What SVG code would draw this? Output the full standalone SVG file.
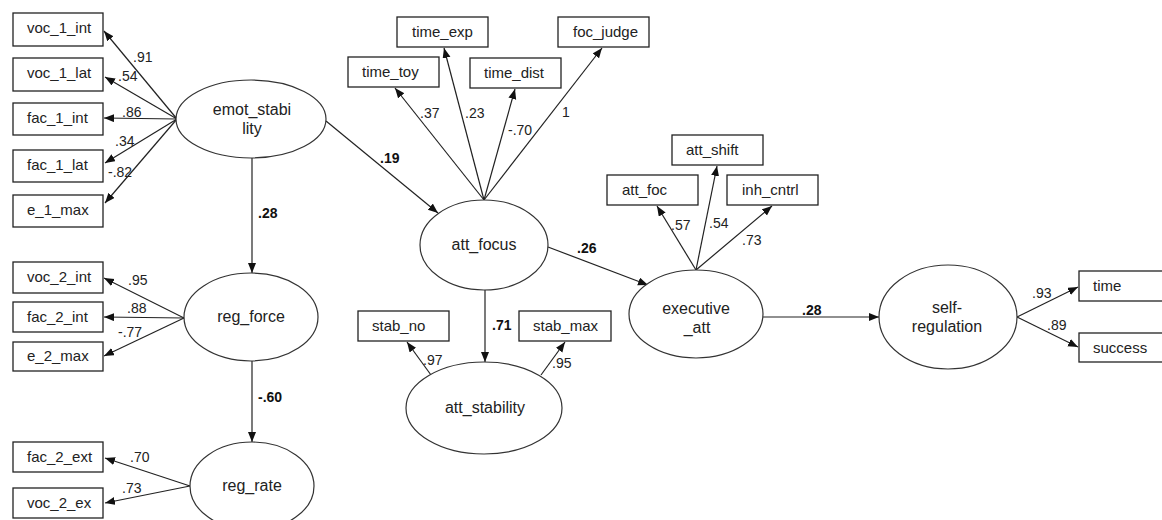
<svg xmlns="http://www.w3.org/2000/svg" width="1162" height="520" viewBox="0 0 1162 520">
<defs>
<marker id="ah" markerUnits="userSpaceOnUse" markerWidth="11" markerHeight="9" refX="10" refY="4" orient="auto">
<path d="M0,0 L10,4 L0,8 z" fill="#111"/>
</marker>
<style>
.box{fill:#fff;stroke:#222;stroke-width:1.3}
.ell{fill:#fff;stroke:#333;stroke-width:1.2}
.bt{font-family:"Liberation Sans",Arial,sans-serif;font-size:15px;fill:#222}
.et{font-family:"Liberation Sans",Arial,sans-serif;font-size:16px;fill:#222;text-anchor:middle}
.lb{font-family:"Liberation Sans",Arial,sans-serif;font-size:14px;fill:#222}
.lbb{font-family:"Liberation Sans",Arial,sans-serif;font-size:14px;font-weight:bold;fill:#111}
.c{stroke:#222;stroke-width:1.2;fill:none;marker-end:url(#ah)}
</style>
</defs>
<rect width="1162" height="520" fill="#fff"/>

<g id="connectors">
<line class="c" x1="177" y1="119" x2="104" y2="31"/>
<line class="c" x1="177" y1="119" x2="105" y2="77"/>
<line class="c" x1="177" y1="119" x2="104" y2="118"/>
<line class="c" x1="177" y1="119" x2="105" y2="163"/>
<line class="c" x1="177" y1="119" x2="105" y2="203"/>
<line class="c" x1="184" y1="318" x2="104" y2="278"/>
<line class="c" x1="184" y1="318" x2="104" y2="317"/>
<line class="c" x1="184" y1="318" x2="104" y2="356"/>
<line class="c" x1="190" y1="486" x2="105" y2="458"/>
<line class="c" x1="190" y1="486" x2="105" y2="503"/>
<line class="c" x1="252" y1="158" x2="252" y2="273"/>
<line class="c" x1="252" y1="361" x2="252" y2="442"/>
<line class="c" x1="326" y1="121" x2="438" y2="213"/>
<line class="c" x1="484" y1="200" x2="395" y2="88"/>
<line class="c" x1="484" y1="200" x2="444" y2="48"/>
<line class="c" x1="484" y1="200" x2="515" y2="89"/>
<line class="c" x1="484" y1="200" x2="602" y2="48"/>
<line class="c" x1="485" y1="290" x2="485" y2="362"/>
<line class="c" x1="431" y1="375" x2="407" y2="342"/>
<line class="c" x1="541" y1="375" x2="565" y2="342"/>
<line class="c" x1="548" y1="247" x2="648" y2="285"/>
<line class="c" x1="696" y1="270" x2="657" y2="206"/>
<line class="c" x1="696" y1="270" x2="717" y2="166"/>
<line class="c" x1="696" y1="270" x2="772" y2="206"/>
<line class="c" x1="763" y1="317" x2="879" y2="317"/>
<line class="c" x1="1017" y1="317" x2="1078" y2="287"/>
<line class="c" x1="1017" y1="317" x2="1078" y2="347"/>
</g>

<g id="labels">
<text class="lb" x="133" y="62">.91</text>
<text class="lb" x="118" y="81">.54</text>
<text class="lb" x="122" y="117">.86</text>
<text class="lb" x="115" y="146">.34</text>
<text class="lb" x="108" y="177">-.82</text>
<text class="lb" x="128" y="285">.95</text>
<text class="lb" x="127" y="313">.88</text>
<text class="lb" x="118" y="337">-.77</text>
<text class="lb" x="130" y="462">.70</text>
<text class="lb" x="122" y="493">.73</text>
<text class="lbb" x="258" y="218">.28</text>
<text class="lbb" x="258" y="402">-.60</text>
<text class="lb" x="420" y="118">.37</text>
<text class="lb" x="465" y="118">.23</text>
<text class="lb" x="508" y="135">-.70</text>
<text class="lb" x="562" y="117">1</text>
<text class="lbb" x="380" y="163">.19</text>
<text class="lbb" x="492" y="330">.71</text>
<text class="lb" x="423" y="365">.97</text>
<text class="lb" x="552" y="368">.95</text>
<text class="lbb" x="577" y="253">.26</text>
<text class="lb" x="671" y="230">.57</text>
<text class="lb" x="709" y="228">.54</text>
<text class="lb" x="742" y="245">.73</text>
<text class="lbb" x="802" y="315">.28</text>
<text class="lb" x="1032" y="298">.93</text>
<text class="lb" x="1047" y="330">.89</text>
</g>

<g id="voc_1_int"><rect class="box" x="13" y="13" width="90" height="33"/><text class="bt" x="27" y="33">voc_1_int</text></g>
<g id="voc_1_lat"><rect class="box" x="13" y="58" width="90" height="33"/><text class="bt" x="27" y="78">voc_1_lat</text></g>
<g id="fac_1_int"><rect class="box" x="13" y="103" width="90" height="32"/><text class="bt" x="27" y="123">fac_1_int</text></g>
<g id="fac_1_lat"><rect class="box" x="13" y="150" width="90" height="32"/><text class="bt" x="27" y="170">fac_1_lat</text></g>
<g id="e_1_max"><rect class="box" x="13" y="195" width="90" height="32"/><text class="bt" x="27" y="215">e_1_max</text></g>

<g id="voc_2_int"><rect class="box" x="13" y="262" width="90" height="31"/><text class="bt" x="27" y="282">voc_2_int</text></g>
<g id="fac_2_int"><rect class="box" x="13" y="302" width="90" height="30"/><text class="bt" x="27" y="322">fac_2_int</text></g>
<g id="e_2_max"><rect class="box" x="13" y="342" width="90" height="29"/><text class="bt" x="27" y="361">e_2_max</text></g>
<g id="fac_2_ext"><rect class="box" x="13" y="442" width="90" height="30"/><text class="bt" x="27" y="462">fac_2_ext</text></g>
<g id="voc_2_ex"><rect class="box" x="13" y="488" width="90" height="30"/><text class="bt" x="27" y="508">voc_2_ex</text></g>

<g id="time_toy"><rect class="box" x="348" y="57" width="91" height="30"/><text class="bt" x="362" y="77">time_toy</text></g>
<g id="time_exp"><rect class="box" x="397" y="17" width="91" height="30"/><text class="bt" x="412" y="37">time_exp</text></g>
<g id="time_dist"><rect class="box" x="470" y="58" width="91" height="30"/><text class="bt" x="484" y="78">time_dist</text></g>
<g id="foc_judge"><rect class="box" x="558" y="17" width="91" height="30"/><text class="bt" x="573" y="37">foc_judge</text></g>

<g id="stab_no"><rect class="box" x="358" y="311" width="91" height="30"/><text class="bt" x="372" y="331">stab_no</text></g>
<g id="stab_max"><rect class="box" x="519" y="311" width="92" height="30"/><text class="bt" x="533" y="331">stab_max</text></g>

<g id="att_foc"><rect class="box" x="607" y="175" width="91" height="30"/><text class="bt" x="622" y="195">att_foc</text></g>
<g id="att_shift"><rect class="box" x="672" y="135" width="91" height="30"/><text class="bt" x="686" y="155">att_shift</text></g>
<g id="inh_cntrl"><rect class="box" x="727" y="175" width="91" height="30"/><text class="bt" x="742" y="195">inh_cntrl</text></g>

<g id="time"><rect class="box" x="1079" y="271" width="95" height="30"/><text class="bt" x="1093" y="291">time</text></g>
<g id="success"><rect class="box" x="1079" y="333" width="95" height="29"/><text class="bt" x="1093" y="353">success</text></g>

<g id="emot_stability"><ellipse class="ell" cx="251" cy="119" rx="75" ry="39"/><text class="et" x="252" y="115">emot_stabi</text><text class="et" x="252" y="134">lity</text></g>
<g id="reg_force"><ellipse class="ell" cx="251" cy="317" rx="67" ry="44"/><text class="et" x="251" y="322">reg_force</text></g>
<g id="reg_rate"><ellipse class="ell" cx="252" cy="486" rx="62" ry="44"/><text class="et" x="252" y="491">reg_rate</text></g>
<g id="att_focus"><ellipse class="ell" cx="484" cy="245" rx="64" ry="45"/><text class="et" x="484" y="250">att_focus</text></g>
<g id="att_stability"><ellipse class="ell" cx="484" cy="408" rx="78" ry="46"/><text class="et" x="485" y="413">att_stability</text></g>
<g id="executive_att"><ellipse class="ell" cx="696" cy="314" rx="67" ry="44"/><text class="et" x="696" y="314">executive</text><text class="et" x="697" y="333">_att</text></g>
<g id="self_regulation"><ellipse class="ell" cx="948" cy="317" rx="69" ry="52"/><text class="et" x="947" y="313">self-</text><text class="et" x="947" y="332">regulation</text></g>
</svg>
